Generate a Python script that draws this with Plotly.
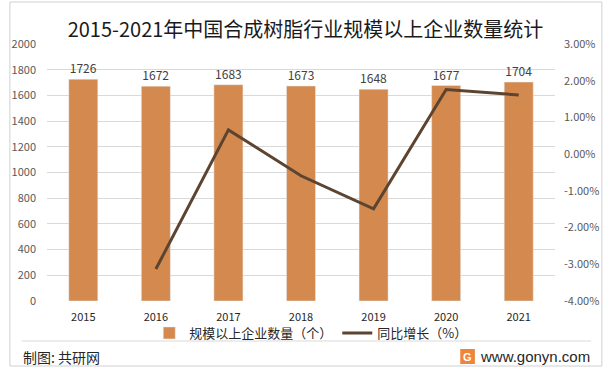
import plotly.graph_objects as go

years = ["2015", "2016", "2017", "2018", "2019", "2020", "2021"]
counts = [1726, 1672, 1683, 1673, 1648, 1677, 1704]
growth_years = ["2016", "2017", "2018", "2019", "2020", "2021"]
growth = [-3.13, 0.66, -0.59, -1.49, 1.76, 1.61]

left_ticks = list(range(0, 2001, 200))
right_ticks = [-4, -3, -2, -1, 0, 1, 2, 3]
right_labels = [f"{v:.2f}%" for v in right_ticks]

bar_color = "#D48A4E"
line_color = "#5C4431"
font_family = "Noto Sans CJK SC, Microsoft YaHei, sans-serif"

fig = go.Figure()
fig.add_trace(go.Bar(
    x=years, y=counts, name="规模以上企业数量（个）",
    marker_color=bar_color, width=0.4,
    text=[str(c) for c in counts], textposition="outside",
    textfont=dict(size=12, color="#404040"), cliponaxis=False,
))
fig.add_trace(go.Scatter(
    x=growth_years, y=growth, name="同比增长（%）", yaxis="y2",
    mode="lines", line=dict(color=line_color, width=3),
))

L, R, T, B = 40, 51, 44, 69
W, H = 611, 370
pw, ph = W - L - R, H - T - B

def px(x):
    return (x - L) / pw

def py(y):
    return (H - B - y) / ph

fig.update_layout(
    width=W, height=H,
    margin=dict(l=L, r=R, t=T, b=B),
    paper_bgcolor="white", plot_bgcolor="white",
    font=dict(family=font_family, color="#595959", size=11),
    title=dict(text="2015-2021年中国合成树脂行业规模以上企业数量统计",
               x=0.5, xanchor="center", y=1 - 30 / H, yanchor="middle",
               font=dict(size=20, color="#1a1a1a")),
    bargap=0.6,
    xaxis=dict(tickfont=dict(size=11, color="#262626"), showgrid=False,
               showline=False, ticks="", ticklabelstandoff=8),
    yaxis=dict(range=[0, 2000], tickvals=left_ticks, showgrid=True,
               gridcolor="#D9D9D9", gridwidth=1, zeroline=False,
               tickfont=dict(size=11, color="#595959"), ticks="",
               ticklabelstandoff=10),
    yaxis2=dict(range=[-4, 3], tickvals=right_ticks, ticktext=right_labels,
                overlaying="y", side="right", showgrid=False, zeroline=False,
                tickfont=dict(size=11, color="#595959"), ticks="",
                ticklabelstandoff=8),
    legend=dict(orientation="h", x=px(310), xanchor="center",
                y=py(333), yanchor="middle",
                font=dict(size=13, color="#262626"),
                bgcolor="rgba(0,0,0,0)", itemwidth=30),
    showlegend=True,
)

fig.add_shape(type="line", xref="paper", yref="paper",
              x0=px(14), x1=px(597), y0=py(341), y1=py(341),
              line=dict(color="#D9D9D9", width=1))
fig.add_shape(type="rect", xref="paper", yref="paper",
              x0=px(2), x1=px(608), y0=py(366), y1=py(2),
              line=dict(color="#D0D0D0", width=1), layer="below")
fig.add_annotation(text="制图: 共研网", xref="paper", yref="paper",
                   x=px(13), y=py(357), xanchor="left", yanchor="middle",
                   showarrow=False, font=dict(size=14, color="#262626"))
fig.add_annotation(text="www.gonyn.com", xref="paper", yref="paper",
                   x=px(598), y=py(356), xanchor="right", yanchor="middle",
                   showarrow=False,
                   font=dict(size=15, color="#262626", family="Liberation Sans, Arial, sans-serif"))
fig.add_shape(type="rect", xref="paper", yref="paper",
              x0=px(463), x1=px(478), y0=py(364), y1=py(349),
              fillcolor="#F0843A", line=dict(width=0))
fig.add_annotation(text="<b>G</b>", xref="paper", yref="paper",
                   x=px(470.5), y=py(356.5), xanchor="center", yanchor="middle",
                   showarrow=False, font=dict(size=11, color="white",
                                              family="Liberation Sans, Arial, sans-serif"))

fig.write_html("out.html", config={"displayModeBar": False},
               post_script="document.body.style.margin='0';")
